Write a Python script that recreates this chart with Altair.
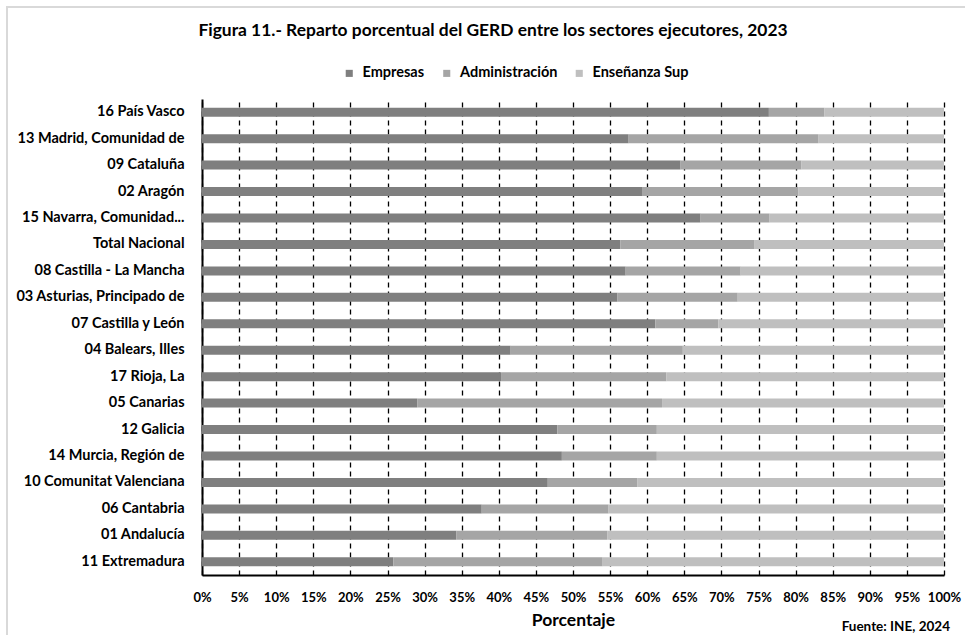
import altair as alt
import pandas as pd

# Regions, top to bottom
regiones = [
    "16 País Vasco",
    "13 Madrid, Comunidad de",
    "09 Cataluña",
    "02 Aragón",
    "15 Navarra, Comunidad...",
    "Total Nacional",
    "08 Castilla - La Mancha",
    "03 Asturias, Principado de",
    "07 Castilla y León",
    "04 Balears, Illes",
    "17 Rioja, La",
    "05 Canarias",
    "12 Galicia",
    "14 Murcia, Región de",
    "10 Comunitat Valenciana",
    "06 Cantabria",
    "01 Andalucía",
    "11 Extremadura",
]

# Share of GERD (%) by executing sector
empresas = [76.4, 57.5, 64.5, 59.3, 67.2, 56.4, 57.1, 56.0, 61.1,
            41.6, 40.3, 29.0, 47.9, 48.5, 46.6, 37.7, 34.3, 25.8]
administracion = [7.5, 25.6, 16.3, 21.1, 9.3, 18.0, 15.5, 16.2, 8.5,
                  23.2, 22.3, 33.0, 13.4, 12.8, 12.1, 17.1, 20.3, 28.2]
ensenanza_sup = [16.1, 16.9, 19.2, 19.6, 23.5, 25.6, 27.4, 27.8, 30.4,
                 35.2, 37.4, 38.0, 38.7, 38.7, 41.3, 45.2, 45.4, 46.0]

sectores = ["Empresas", "Administración", "Enseñanza Sup"]
colores = ["#7f7f7f", "#a5a5a5", "#bfbfbf"]
ticks_pct = list(range(0, 101, 5))

rows = []
for i, reg in enumerate(regiones):
    for k, (sec, vals) in enumerate(zip(sectores, [empresas, administracion, ensenanza_sup])):
        rows.append({"region": reg, "sector": sec, "orden": k, "valor": vals[i]})
df = pd.DataFrame(rows)

FONT = "Lato"

bars = alt.Chart(df).mark_bar(size=9).encode(
    x=alt.X(
        "valor:Q",
        stack="zero",
        scale=alt.Scale(domain=[0, 100], nice=False),
        axis=alt.Axis(
            values=ticks_pct,
            labelExpr="datum.value + '%'",
            title="Porcentaje",
            grid=True,
            gridDash=[5, 4],
            gridColor="#000000",
            gridWidth=1.3,
            domainColor="#000000",
            domainWidth=2,
            ticks=False,
            labelPadding=16,
            labelFontSize=13,
            labelFontWeight="bold",
            labelColor="#000000",
            labelFlush=False,
            titleFontSize=17.5,
            titleFontWeight="bold",
            titleColor="#000000",
            titlePadding=7,
        ),
    ),
    y=alt.Y(
        "region:N",
        sort=regiones,
        axis=alt.Axis(
            title=None,
            ticks=False,
            grid=False,
            labelPadding=18,
            domainColor="#000000",
            domainWidth=2,
            labelFontSize=14.5,
            labelFontWeight="bold",
            labelColor="#000000",
            labelLimit=300,
        ),
    ),
    color=alt.Color(
        "sector:N",
        sort=sectores,
        scale=alt.Scale(domain=sectores, range=colores),
        legend=alt.Legend(
            title=None,
            orient="none",
            direction="horizontal",
            legendX=140,
            legendY=-33,
            symbolType="square",
            symbolSize=50,
            symbolStrokeWidth=0,
            labelFontSize=14.5,
            labelFontWeight="bold",
            labelColor="#000000",
            labelOffset=6,
            columnPadding=14.5,
            padding=0,
        ),
    ),
    order=alt.Order("orden:Q"),
)

fuente = alt.Chart(pd.DataFrame({"t": ["Fuente: INE, 2024"]})).mark_text(
    align="right", baseline="middle", fontSize=13.5, fontWeight="bold", color="#000000", font=FONT
).encode(x=alt.value(748), y=alt.value(528), text="t:N")

marco = alt.Chart(pd.DataFrame({"a": [0]})).mark_rect(
    filled=False, stroke="#d9d9d9", strokeWidth=2
).encode(x=alt.value(-195), y=alt.value(-92), x2=alt.value(800), y2=alt.value(600))

chart = alt.layer(marco, bars, fuente).properties(
    width=742,
    height=476,
    title=alt.TitleParams(
        "Figura 11.- Reparto porcentual del GERD entre los sectores ejecutores, 2023",
        fontSize=17.4,
        fontWeight="bold",
        color="#000000",
        anchor="middle",
        dx=-80,
        offset=-33,
    ),
    padding={"left": 202, "top": 99, "right": 21, "bottom": 60},
    autosize=alt.AutoSizeParams(type="none"),
).configure(font=FONT).configure_view(stroke=None)

chart.save("out.html", embed_options={"renderer": "svg", "actions": False})
